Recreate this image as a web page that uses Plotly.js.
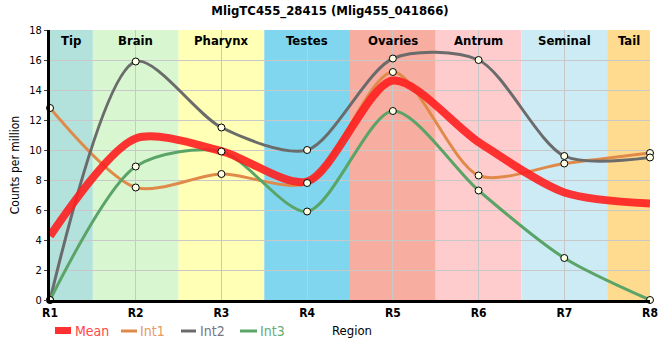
<!DOCTYPE html>
<html><head><meta charset="utf-8">
<script src="https://cdn.plot.ly/plotly-3.0.1.min.js"></script>
<style>body{margin:0;background:#fff}#c{width:660px;height:360px}</style>
</head><body><div id="c"></div>
<script>
const regions = ["R1","R2","R3","R4","R5","R6","R7","R8"];
const tissues = ["Tip","Brain","Pharynx","Testes","Ovaries","Antrum","Seminal","Tail"];
const bandColors = ["#b3e2dd","#d8f6d0","#ffffb5","#80d6ee","#f7ada0","#ffccce","#ccebf5","#fedb8e"];
const int1 = [12.8, 7.5, 8.4, 7.8, 15.2, 8.3, 9.1, 9.8];
const int2 = [0, 15.9, 11.5, 10.0, 16.1, 16.0, 9.6, 9.5];
const int3 = [0, 8.9, 9.9, 5.9, 12.6, 7.3, 2.8, 0];
const meanVals = [4.27, 10.77, 9.93, 7.9, 14.63, 10.53, 7.17, 6.43];
const seriesNames = ["Mean","Int1","Int2","Int3"];

const FONT = "DejaVu Sans Condensed, Liberation Sans, Arial, sans-serif";
const xs = regions.map((r,i)=>i+1);
const lineCols = ["#ff2020","#e08a4a","#6b6b6b","#5aa468"];
const textCols = ["#ff4848","#e89a60","#777780","#66ad76"];

function lineTrace(y, name, color, width){
  return {x: xs, y: y, mode:"lines", name: name, showlegend:false,
    line:{color:color, width:width, shape:"spline", smoothing:0.8}, hoverinfo:"skip"};
}
function markTrace(y){
  return {x: xs, y: y, mode:"markers", showlegend:false,
    marker:{symbol:"circle", size:7, color:"#ffffe6", line:{color:"#000", width:1}}, hoverinfo:"skip", cliponaxis:false};
}
const data = [
  lineTrace(int1,seriesNames[1],lineCols[1],3),
  lineTrace(int2,seriesNames[2],lineCols[2],3),
  lineTrace(int3,seriesNames[3],lineCols[3],3),
  lineTrace(meanVals,seriesNames[0],lineCols[0],8),
  markTrace(int1), markTrace(int2), markTrace(int3)
];
data[3].opacity = 0.9;

const shapes = [], annotations = [];
tissues.forEach((t,i)=>{
  const x0 = Math.max(1, i+0.5), x1 = Math.min(8, i+1.5);
  shapes.push({type:"rect", xref:"x", yref:"paper", x0:x0, x1:x1, y0:0, y1:1,
    fillcolor:bandColors[i], line:{width:0}, layer:"below"});
  annotations.push({xref:"x", yref:"paper", x:(x0+x1)/2, y:1, yanchor:"top", yshift:-1,
    text:"<b>"+t+"</b>", showarrow:false, font:{size:13, color:"#000", family:FONT}});
});
// custom legend (pixel positions -> paper coords)
const px = v => (v-50)/600, py = v => (300-v)/270;
const legSym = [[55,71],[121,137],[181,196],[240,257]];
const legTxt = [74,139,199,259];
seriesNames.forEach((n,i)=>{
  if(i===0){
    shapes.push({type:"rect", xref:"paper", yref:"paper", x0:px(legSym[i][0]), x1:px(legSym[i][1]),
      y0:py(334), y1:py(327), fillcolor:"#ff3030", line:{width:0}});
  } else {
    shapes.push({type:"line", xref:"paper", yref:"paper", x0:px(legSym[i][0]), x1:px(legSym[i][1]),
      y0:py(331), y1:py(331), line:{color:lineCols[i], width:3}});
  }
  annotations.push({xref:"paper", yref:"paper", x:px(legTxt[i]), y:py(331), xanchor:"left", yanchor:"middle",
    text:n, showarrow:false, font:{size:14, color:textCols[i], family:FONT}, xshift:-1});
});
annotations.push({xref:"paper", yref:"paper", x:px(352), y:py(331), xanchor:"center", yanchor:"middle",
  text:"Region", showarrow:false, font:{size:13, color:"#000", family:FONT}});

const layout = {
  width:660, height:360, showlegend:false,
  margin:{l:50, r:10, t:30, b:60, autoexpand:false},
  paper_bgcolor:"#fff", plot_bgcolor:"rgba(0,0,0,0)",
  font:{family:FONT, size:12, color:"#000"},
  title:{text:"<b>MligTC455_28415 (Mlig455_041866)</b>", x:0.5, xanchor:"center", y:0.985, yanchor:"top", font:{size:13, family:FONT}},
  xaxis:{range:[1,8], tickvals:xs, ticktext:regions.map(r=>"<b>"+r+"</b>"), showgrid:true, gridcolor:"#c8c8c8",
    zeroline:false, showline:true, linecolor:"#000", linewidth:3, ticks:"", tickfont:{size:12}},
  yaxis:{range:[0,18], dtick:2, showgrid:true, gridcolor:"#c8c8c8", zeroline:false, showline:true,
    linecolor:"#000", linewidth:3, ticks:"outside", ticklen:3, tickfont:{size:11},
    title:{text:"Counts per million", font:{size:12}, standoff:8}},
  shapes:shapes, annotations:annotations
};
Plotly.newPlot("c", data, layout, {staticPlot:true});
</script></body></html>
